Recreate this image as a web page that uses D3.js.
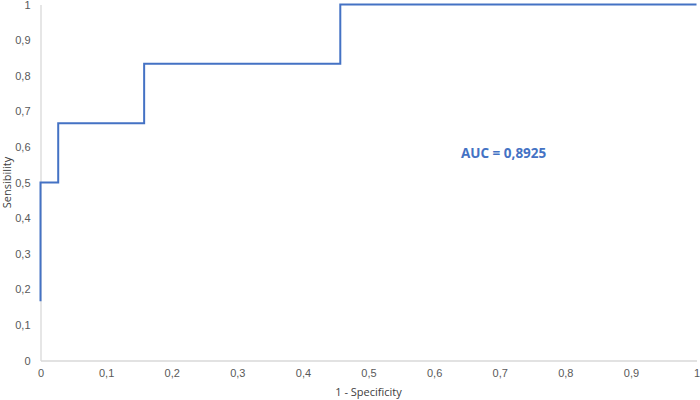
<!DOCTYPE html>
<html>
<head>
<meta charset="utf-8">
<script src="https://cdn.jsdelivr.net/npm/d3@7"></script>
<style>
  html, body { margin: 0; padding: 0; background: #fff; }
  svg { display: block; font-family: "Open Sans", "Liberation Sans", sans-serif; }
</style>
</head>
<body>
<svg id="chart" width="700" height="400"></svg>
<script>
// ROC curve data (1 - specificity, sensitivity)
const fpr = [0, 0, 0.027, 0.027, 0.158, 0.158, 0.457, 0.457, 1];
const tpr = [0.1667, 0.5, 0.5, 0.6667, 0.6667, 0.8333, 0.8333, 1, 1];
const tickValues = [0, 0.1, 0.2, 0.3, 0.4, 0.5, 0.6, 0.7, 0.8, 0.9, 1];
const aucLabel = "AUC = 0,8925";
const xTitle = "1 - Specificity";
const yTitle = "Sensibility";

const svg = d3.select("#chart");
const m = { left: 40.5, right: 696.5, top: 4.5, bottom: 360.5 };

const x = d3.scaleLinear().domain([0, 1]).range([m.left, m.right]);
const y = d3.scaleLinear().domain([0, 1]).range([m.bottom, m.top]);
const fmt = d => d3.format("~g")(d).replace(".", ",");

// X axis
const xAxis = svg.append("g")
  .attr("transform", `translate(0,${m.bottom})`)
  .call(d3.axisBottom(x).tickValues(tickValues).tickSize(0).tickPadding(9).tickFormat(fmt));
xAxis.select(".domain").attr("stroke", "#d9d9d9").attr("stroke-width", 1.3);
xAxis.selectAll("text").attr("fill", "#595959").style("font-size", "11px");

// Y axis
const yAxis = svg.append("g")
  .attr("transform", `translate(${m.left},0)`)
  .call(d3.axisLeft(y).tickValues(tickValues).tickSize(0).tickPadding(10).tickFormat(fmt));
yAxis.select(".domain").attr("stroke", "#d9d9d9").attr("stroke-width", 1.3);
yAxis.selectAll("text").attr("fill", "#595959").style("font-size", "11px");

// ROC line
const pts = fpr.map((v, i) => [v, tpr[i]]);
svg.append("path")
  .datum(pts)
  .attr("fill", "none")
  .attr("stroke", "#4472C4")
  .attr("stroke-width", 2)
  .attr("d", d3.line().x(d => x(d[0])).y(d => y(d[1])));

// AUC label
svg.append("text")
  .attr("x", x(0.706))
  .attr("y", y(0.58))
  .attr("text-anchor", "middle")
  .attr("dominant-baseline", "middle")
  .attr("fill", "#4472C4")
  .style("font-size", "13.5px")
  .style("font-weight", "bold")
  .text(aucLabel);

// Axis titles
svg.append("text")
  .attr("x", (m.left + m.right) / 2)
  .attr("y", 393)
  .attr("text-anchor", "middle")
  .attr("dominant-baseline", "middle")
  .attr("fill", "#404040")
  .style("font-size", "11px")
  .text(xTitle);

svg.append("text")
  .attr("transform", `translate(8,${(m.top + m.bottom) / 2}) rotate(-90)`)
  .attr("text-anchor", "middle")
  .attr("dominant-baseline", "middle")
  .attr("fill", "#404040")
  .style("font-size", "11px")
  .text(yTitle);
</script>
</body>
</html>
